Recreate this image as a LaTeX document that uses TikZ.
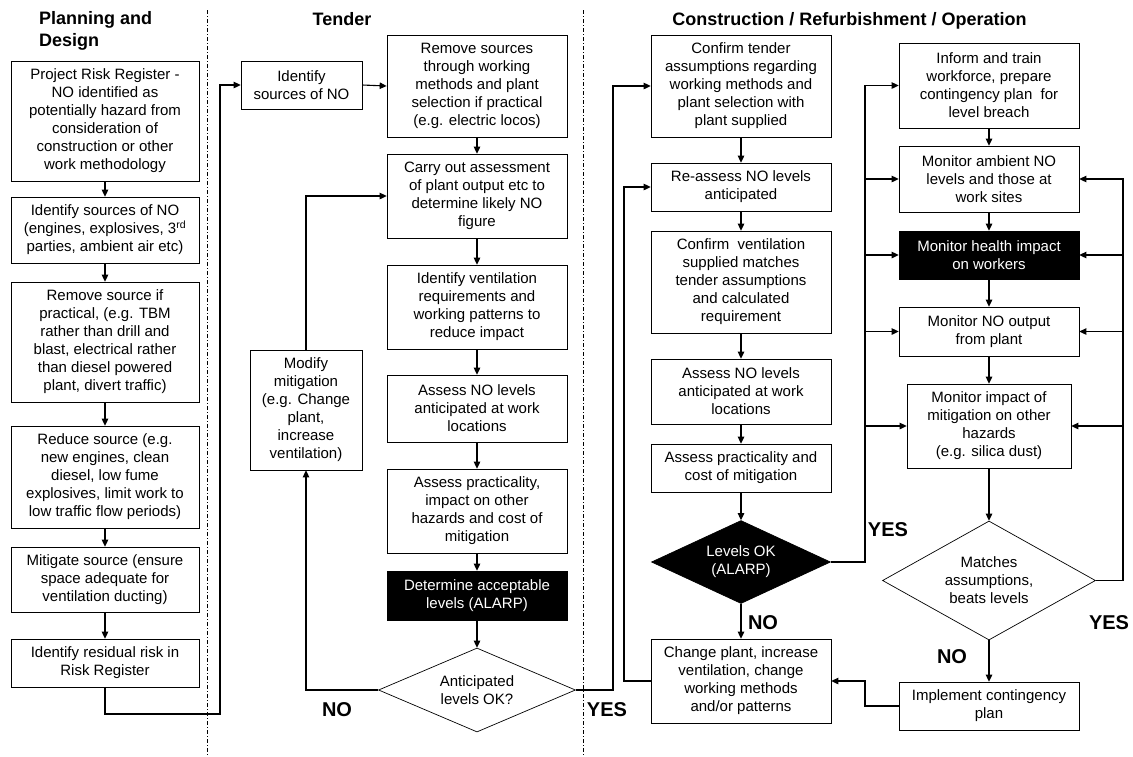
\documentclass[tikz,border=0pt]{standalone}
\usepackage{fontspec}
\setmainfont{Liberation Sans}
\usetikzlibrary{shapes.geometric,arrows.meta}

\begin{document}
\begin{tikzpicture}[x=1pt,y=-1pt,>={Triangle[length=7pt,width=6.5pt]}]
\tikzstyle{box}=[draw, line width=0.7pt, align=center, inner sep=0pt,
	font=\fontsize{15}{18}\selectfont]
\tikzstyle{dark}=[box, fill=black, text=white]
\tikzstyle{dec}=[diamond, box, aspect=2]
\tikzstyle{conn}=[line width=1.1pt]
\tikzstyle{yn}=[font=\fontsize{20}{24}\selectfont\bfseries, inner sep=0pt]
\tikzstyle{phase}=[font=\fontsize{18}{22}\selectfont\bfseries, inner sep=0pt, align=left]
\tikzstyle{divider}=[line width=0.6pt, dash pattern=on 4pt off 2pt on 1pt off 2pt]
\useasboundingbox (0,0) rectangle (1133,756);

% phases
\node[phase, anchor=north west] (tplan) at (39,11.5) {Planning and\\Design};
\node[phase, anchor=base] (ttend) at (342,25) {Tender};
\node[phase, anchor=base] (tcons) at (849.5,25) {Construction / Refurbishment / Operation};
\draw[divider] (207,10) -- (207,756);
\draw[divider] (583,10) -- (583,756);

% planning and design
\node[box, minimum width=188, minimum height=120] (prr) at (105,121)
	{Project Risk Register -\\NO identified as\\potentially hazard from\\consideration of\\construction or other\\work methodology};
\node[box, minimum width=188, minimum height=66] (ids) at (105,230)
	{Identify sources of NO\\(engines, explosives, 3\textsuperscript{rd}\\parties, ambient air etc)};
\node[box, minimum width=188, minimum height=120] (rms) at (105,342)
	{Remove source if\\practical, (e.g. TBM\\rather than drill and\\blast, electrical rather\\than diesel powered\\plant, divert traffic)};
\node[box, minimum width=188, minimum height=102] (red) at (105,477)
	{Reduce source (e.g.\\new engines, clean\\diesel, low fume\\explosives, limit work to\\low traffic flow periods)};
\node[box, minimum width=188, minimum height=65] (mit) at (105,579.5)
	{Mitigate source (ensure\\space adequate for\\ventilation ducting)};
\node[box, minimum width=188, minimum height=48] (res) at (105,663)
	{Identify residual risk in\\Risk Register};

% tender
\node[box, minimum width=121, minimum height=48] (idt) at (301.5,85)
	{Identify\\sources of NO};
\node[box, minimum width=180, minimum height=102] (rmv) at (477,86)
	{Remove sources\\through working\\methods and plant\\selection if practical\\(e.g. electric locos)};
\node[box, minimum width=180, minimum height=84] (car) at (477,196)
	{Carry out assessment\\of plant output etc to\\determine likely NO\\figure};
\node[box, minimum width=180, minimum height=84] (ven) at (477,307)
	{Identify ventilation\\requirements and\\working patterns to\\reduce impact};
\node[box, minimum width=180, minimum height=67] (asl) at (477,408.5)
	{Assess NO levels\\anticipated at work\\locations};
\node[box, minimum width=180, minimum height=84] (apr) at (477,511)
	{Assess practicality,\\impact on other\\hazards and cost of\\mitigation};
\node[dark, minimum width=180, minimum height=49] (det) at (477,595.5)
	{Determine acceptable\\levels (ALARP)};
\node[dec, minimum width=197, minimum height=84] (ant) at (477,690)
	{Anticipated\\levels OK?};
\node[box, minimum width=112, minimum height=120] (mod) at (306,410)
	{Modify\\mitigation\\(e.g. Change\\plant,\\increase\\ventilation)};

% construction / refurbishment / operation
\node[box, minimum width=180, minimum height=102] (ctd) at (741,86)
	{Confirm tender\\assumptions regarding\\working methods and\\plant selection with\\plant supplied};
\node[box, minimum width=180, minimum height=48] (rea) at (741,187)
	{Re-assess NO levels\\anticipated};
\node[box, minimum width=180, minimum height=102] (cve) at (741,282)
	{Confirm\ \ ventilation\\supplied matches\\tender assumptions\\and calculated\\requirement};
\node[box, minimum width=180, minimum height=65] (anl) at (741,391.5)
	{Assess NO levels\\anticipated at work\\locations};
\node[box, minimum width=180, minimum height=48] (apc) at (741,468)
	{Assess practicality and\\cost of mitigation};
\node[dec, dark, minimum width=179, minimum height=83] (lok) at (741,562)
	{Levels OK\\(ALARP)};
\node[box, minimum width=180, minimum height=84] (chg) at (741,681)
	{Change plant, increase\\ventilation, change\\working methods\\and/or patterns};

\node[box, minimum width=180, minimum height=85] (inf) at (989,85.5)
	{Inform and train\\workforce, prepare\\contingency plan\ \ for\\level breach};
\node[box, minimum width=180, minimum height=66] (mam) at (989,179)
	{Monitor ambient NO\\levels and those at\\work sites};
\node[dark, minimum width=180, minimum height=48] (mhe) at (989,255)
	{Monitor health impact\\on workers};
\node[box, minimum width=180, minimum height=49] (mno) at (989,331.5)
	{Monitor NO output\\from plant};
\node[box, minimum width=164, minimum height=84] (mim) at (989,426)
	{Monitor impact of\\mitigation on other\\hazards\\(e.g. silica dust)};
\node[dec, aspect=1.8, minimum width=213, minimum height=119] (mat) at (989,580.5)
	{Matches\\assumptions,\\beats levels};
\node[box, minimum width=180, minimum height=48] (imp) at (989,706)
	{Implement contingency\\plan};

\coordinate (ltrunk) at (865,562);
\coordinate (rtrunk) at (1123,580.5);

% connectors
\foreach \a/\b in {prr/ids,ids/rms,rms/red,red/mit,mit/res,
	rmv/car,car/ven,ven/asl,asl/apr,apr/det,det/ant,
	ctd/rea,rea/cve,cve/anl,anl/apc,apc/lok,lok/chg,
	inf/mam,mam/mhe,mhe/mno,mno/mim,mim/mat,mat/imp}
	\draw[conn,->] (\a) -- (\b);
\draw[conn,->] (res.south) |- (220,714) |- (idt.west);
\draw[conn,->] (idt.east) -- (rmv.west);
\draw[conn,->] (ant.west) -| (mod.south);
\draw[conn,->] (mod.north) |- (car.west);
\draw[conn,->] (ant.east) -- (613,690) |- (ctd.west);
\draw[conn,->] (chg.west) -- (624,681) |- (rea.west);
\draw[conn,->] (lok.east) -- (ltrunk) |- (inf.west);
\foreach \n in {mam,mhe,mno,mim}
	\draw[conn,->] (ltrunk |- \n.west) -- (\n.west);
\draw[conn,->] (mat.east) -- (rtrunk) |- (mam.east);
\foreach \n in {mhe,mno,mim}
	\draw[conn,->] (rtrunk |- \n.east) -- (\n.east);
\draw[conn,->] (imp.west) -- (865,706) |- (chg.east);

% answers
\node[yn] (nomod) at (337,710) {NO};
\node[yn] (yesant) at (607,710) {YES};
\node[yn] (nolok) at (763,623) {NO};
\node[yn] (yeslok) at (888,530) {YES};
\node[yn] (nomat) at (952,657) {NO};
\node[yn] (yesmat) at (1109,623) {YES};
\end{tikzpicture}
\end{document}
